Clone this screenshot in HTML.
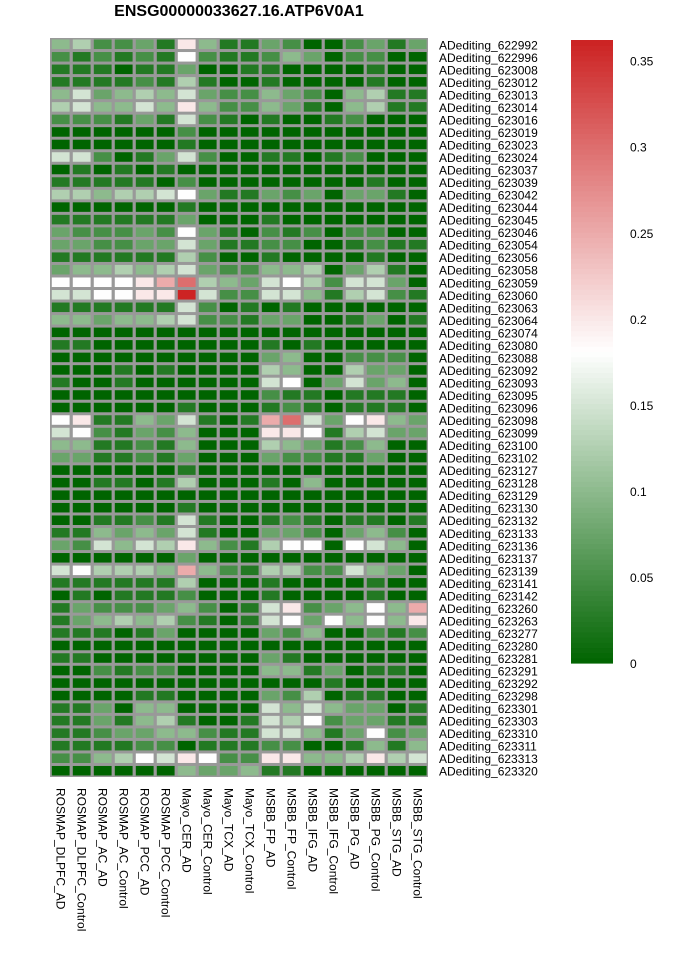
<!DOCTYPE html>
<html><head><meta charset="utf-8"><style>
html,body{margin:0;padding:0;background:#fff;}
svg{display:block;font-family:"Liberation Sans",Arial,sans-serif;}
</style></head><body>
<svg id="chart" width="684" height="967" viewBox="0 0 684 967" xmlns="http://www.w3.org/2000/svg">
<text x="239" y="16" text-anchor="middle" font-size="16" font-weight="bold">ENSG00000033627.16.ATP6V0A1</text>
<g id="cells"></g>
<g id="rowlabels"></g>
<g id="collabels"></g>
<g id="legend"></g>
</svg>
<script>
const columns=["ROSMAP_DLPFC_AD","ROSMAP_DLPFC_Control","ROSMAP_AC_AD","ROSMAP_AC_Control","ROSMAP_PCC_AD","ROSMAP_PCC_Control","Mayo_CER_AD","Mayo_CER_Control","Mayo_TCX_AD","Mayo_TCX_Control","MSBB_FP_AD","MSBB_FP_Control","MSBB_IFG_AD","MSBB_IFG_Control","MSBB_PG_AD","MSBB_PG_Control","MSBB_STG_AD","MSBB_STG_Control"];
const rows=["622992","622996","623008","623012","623013","623014","623016","623019","623023","623024","623037","623039","623042","623044","623045","623046","623054","623056","623058","623059","623060","623063","623064","623074","623080","623088","623092","623093","623095","623096","623098","623099","623100","623102","623127","623128","623129","623130","623132","623133","623136","623137","623139","623141","623142","623260","623263","623277","623280","623281","623291","623292","623298","623301","623303","623310","623311","623313","623320"];
const legendTicks=[0,0.05,0.1,0.15,0.2,0.25,0.3,0.35];
// value codes per row (each char one column): 0..9,a,b
const codeValues={"0":0,"1":0.025,"2":0.05,"3":0.075,"4":0.1,"5":0.125,"6":0.15,"7":0.18,"8":0.2,"9":0.25,"a":0.3,"b":0.36};
const rowCodes=[
"452231841132002313","212121721124302200","111011300110000100","111121510010000100",
"463454632243204511","564464842243104511","222131621010012000","000000200000000000",
"000000100000000000","662013620011012000","010101000000000000","111110200000000100",
"554556731132303310","000000100000000000","111111300010000000","322232731021202200",
"332233631122001211","111111520010000100","344545632244503510","777789a54367526630",
"667788b62266415621","111111620101000000","443445622133001301","000000000000000000",
"110000000010100000","000000000034002220","000101000054005330","100100000067036340",
"000000000021101110","000000100012101110","78114361019a637843","672132400088715633",
"441121400054312400","331121300032211300","000000100000000000","001101500010400000",
"000000000000000000","000000100000000000","001121610012101101","114343610033203420",
"326465842157707640","000000300000000000","675554942155226430","111111500010000100",
"010111200010000100","132223420168234749","134545210167374748","111013000032400212",
"000000000000000000","110000000031000000","002122000044130110","000000000000010000",
"000011000032501100","113044000064643301","113145100165723311","112334421166413723",
"111122011122001414","224576872288445856","000000433411000000"];
const values=rowCodes.map(r=>r.split("").map(c=>codeValues[c]));

const NS="http://www.w3.org/2000/svg";
const vmin=0,vmax=0.362,vmid=0.181;
function lerp(a,b,t){return Math.round(a+(b-a)*t);}
function color(v){
  const g=[0,100,0],w=[255,255,255],r=[204,34,34];
  let c;
  if(v<=vmid){const t=Math.max(0,(v-vmin)/(vmid-vmin));c=[lerp(g[0],w[0],t),lerp(g[1],w[1],t),lerp(g[2],w[2],t)];}
  else{const t=Math.min(1,(v-vmid)/(vmax-vmid));c=[lerp(w[0],r[0],t),lerp(w[1],r[1],t),lerp(w[2],r[2],t)];}
  return `rgb(${c[0]},${c[1]},${c[2]})`;
}
const X0=50,X1=428,Y0=38,Y1=777;
const cw=(X1-X0)/columns.length, rh=(Y1-Y0)/rows.length;
function xPos(i){return X0+i*cw;}
function yPos(j){return Y0+j*rh;}
const cells=document.getElementById("cells");
const bg=document.createElementNS(NS,"rect");
bg.setAttribute("x",X0);bg.setAttribute("y",Y0);bg.setAttribute("width",X1-X0);bg.setAttribute("height",Y1-Y0);bg.setAttribute("fill","#999999");


cells.appendChild(bg);
values.forEach((row,j)=>{
  row.forEach((v,i)=>{
    const r=document.createElementNS(NS,"rect");
    r.setAttribute("x",(xPos(i)+1.8).toFixed(2));
    r.setAttribute("y",(yPos(j)+1.5).toFixed(2));
    r.setAttribute("width",(cw-3.2).toFixed(2));
    r.setAttribute("height",(rh-3).toFixed(2));
    r.setAttribute("fill",color(v));
    
    
    cells.appendChild(r);
  });
});
const rl=document.getElementById("rowlabels");
rows.forEach((name,j)=>{
  const t=document.createElementNS(NS,"text");
  t.setAttribute("x",439);
  t.setAttribute("y",(yPos(j)+rh/2+5).toFixed(2));
  t.setAttribute("font-size","12");
  t.textContent="ADediting_"+name;
  
  
  rl.appendChild(t);
});
const cl=document.getElementById("collabels");
columns.forEach((name,i)=>{
  const t=document.createElementNS(NS,"text");
  const x=xPos(i)+cw/2-4.2, y=788;
  t.setAttribute("x",x);t.setAttribute("y",y);
  t.setAttribute("font-size","12");
  t.setAttribute("transform",`rotate(90 ${x} ${y})`);
  t.textContent=name;
  
  
  cl.appendChild(t);
});
// legend
const lg=document.getElementById("legend");
const LX=571,LW=42,LY0=40,LY1=663;
function ly(v){return LY1-(v-vmin)/(vmax-vmin)*(LY1-LY0);}
const steps=120;
for(let k=0;k<steps;k++){
  const v0=vmin+(vmax-vmin)*k/steps, v1=vmin+(vmax-vmin)*(k+1)/steps;
  const r=document.createElementNS(NS,"rect");
  r.setAttribute("x",LX);r.setAttribute("y",(ly(v1)).toFixed(2));
  r.setAttribute("width",LW);r.setAttribute("height",(ly(v0)-ly(v1)+0.6).toFixed(2));
  r.setAttribute("fill",color((v0+v1)/2));
  
  
  lg.appendChild(r);
}
legendTicks.forEach(v=>{
  const t=document.createElementNS(NS,"text");
  t.setAttribute("x",630);t.setAttribute("y",(ly(v)+5).toFixed(2));
  t.setAttribute("font-size","12");
  t.textContent=String(v);
  
  
  lg.appendChild(t);
});
</script>
</body></html>
